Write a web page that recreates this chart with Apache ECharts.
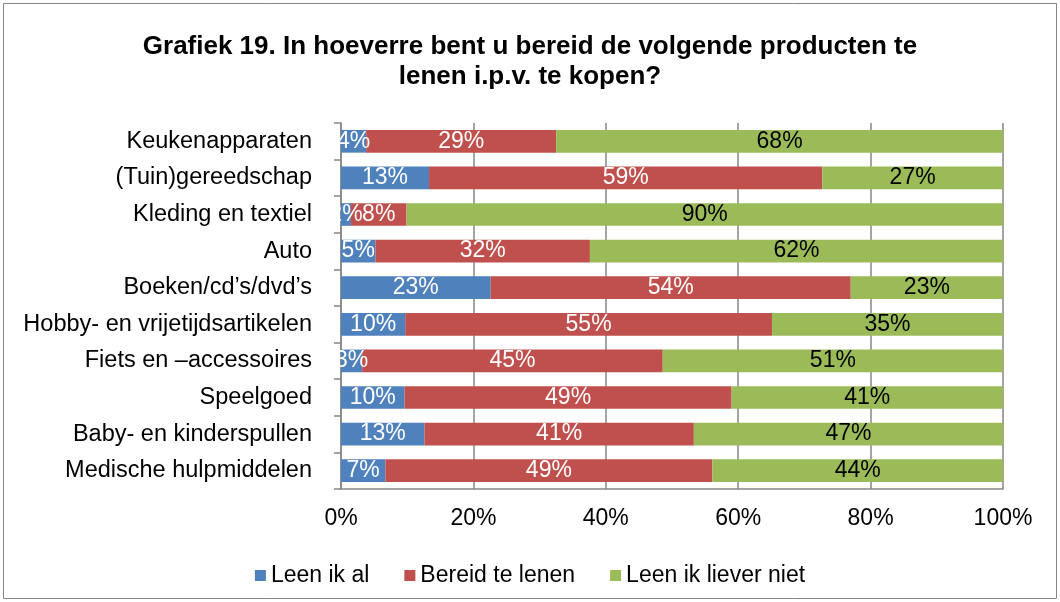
<!DOCTYPE html>
<html>
<head>
    <meta charset="utf-8">
    <title>Grafiek 19</title>
    <script type="text/javascript" src="https://cdn.jsdelivr.net/npm/echarts@6/dist/echarts.min.js"></script>
    <style>
        html, body { margin: 0; padding: 0; background: #fff; }
    </style>
</head>
<body>

<div id="chart" style="width: 1060px; height: 602px;"></div>

<script>
    // categories, top to bottom
    var categories = ['Keukenapparaten', '(Tuin)gereedschap', 'Kleding en textiel', 'Auto',
        'Boeken/cd\u2019s/dvd\u2019s', 'Hobby- en vrijetijdsartikelen', 'Fiets en \u2013accessoires',
        'Speelgoed', 'Baby- en kinderspullen', 'Medische hulpmiddelen'];
    // percentages
    var leenIkAl = [3.8, 13.3, 1.5, 5.2, 22.6, 9.7, 3.2, 9.6, 12.6, 6.7];
    var bereidTeLenen = [28.7, 59.4, 8.4, 32.4, 54.4, 55.4, 45.4, 49.4, 40.7, 49.4];
    var leenIkLieverNiet = [67.6, 27.3, 90.1, 62.4, 23.0, 34.9, 51.4, 41.1, 46.7, 43.9];
    var xTicks = [0, 20, 40, 60, 80, 100];

    var font = 'Liberation Sans, Arial, sans-serif';
    var chart = echarts.init(document.getElementById('chart'));

    function pct(p) {
        return Math.round(p.value) + '%';
    }

    function makeSeries(name, data, color, labelColor) {
        return {
            name: name,
            type: 'bar',
            stack: 'total',
            barWidth: '62%',
            data: data,
            itemStyle: { color: color },
            label: {
                show: true,
                position: 'inside',
                formatter: pct,
                color: labelColor,
                fontSize: 23,
                fontFamily: font
            },
            emphasis: { disabled: true }
        };
    }

    var option = {
        animation: false,
        title: {
            text: 'Grafiek 19. In hoeverre bent u bereid de volgende producten te\nlenen i.p.v. te kopen?',
            left: 'center',
            top: 27,
            padding: [5, 5, 5, 29],
            textStyle: {
                fontFamily: font,
                fontSize: 26,
                fontWeight: 'bold',
                color: '#000',
                lineHeight: 30
            }
        },
        graphic: [{
            type: 'rect',
            shape: { x: 3.5, y: 3.5, width: 1053, height: 595 },
            style: { fill: 'none', stroke: '#868686', lineWidth: 1 },
            silent: true
        }],
        legend: {
            top: 559,
            left: 'center',
            icon: 'rect',
            itemWidth: 11,
            itemHeight: 11,
            itemGap: 35,
            textStyle: { fontFamily: font, fontSize: 23, color: '#000' },
            data: ['Leen ik al', 'Bereid te lenen', 'Leen ik liever niet']
        },
        grid: {
            left: 341,
            right: 57,
            top: 123,
            bottom: 113
        },
        xAxis: {
            type: 'value',
            min: xTicks[0],
            max: xTicks[xTicks.length - 1],
            interval: xTicks[1] - xTicks[0],
            axisLine: { show: true, lineStyle: { color: '#868686', width: 1.5 } },
            axisTick: { show: false },
            splitLine: { show: true, lineStyle: { color: '#868686', width: 1.5 } },
            axisLabel: {
                formatter: '{value}%',
                margin: 18,
                fontFamily: font,
                fontSize: 23,
                color: '#000'
            }
        },
        yAxis: {
            type: 'category',
            inverse: true,
            data: categories,
            axisLine: { show: true, lineStyle: { color: '#868686', width: 1.5 } },
            axisTick: { show: true, length: 7, lineStyle: { color: '#868686', width: 1.5 } },
            axisLabel: {
                margin: 29,
                fontFamily: font,
                fontSize: 23.5,
                color: '#000'
            }
        },
        series: [
            makeSeries('Leen ik al', leenIkAl, '#4F81BD', '#fff'),
            makeSeries('Bereid te lenen', bereidTeLenen, '#C0504D', '#fff'),
            makeSeries('Leen ik liever niet', leenIkLieverNiet, '#9BBB59', '#000')
        ]
    };

    chart.setOption(option);
</script>

</body>
</html>
